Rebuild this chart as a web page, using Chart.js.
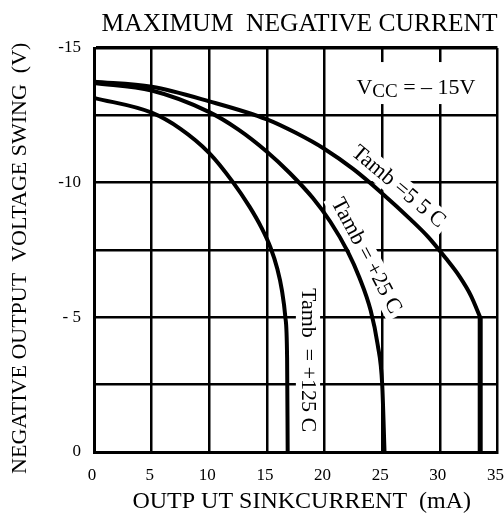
<!DOCTYPE html>
<html>
<head>
<meta charset="utf-8">
<script src="https://cdn.jsdelivr.net/npm/chart.js@4.4.0/dist/chart.umd.min.js"></script>
<style>
  html, body { margin: 0; padding: 0; background: #fff; }
</style>
</head>
<body>
<canvas id="chart" width="504" height="527"></canvas>
<script>
// Maximum negative current - output swing vs sink current
const SERIF = "'Liberation Serif', 'Times New Roman', serif";

const xTickValues = [0, 5, 10, 15, 20, 25, 30, 35];
const yTickValues = [-15, -10, -5, 0];
const yTickText = ["-15", "-10", "- 5", "0"];

// Tamb = -55 C
const coldCurrent = [0, 5, 10, 15, 17.5, 20, 22.5, 25, 27.5, 29, 30.5, 31.7, 32.7, 33.5];
const coldVoltage = [-13.75, -13.56, -13.02, -12.35, -11.85, -11.25, -10.5, -9.6, -8.62, -7.98, -7.2, -6.52, -5.8, -5.0];
const coldTailCurrent = [33.5, 33.5];
const coldTailVoltage = [-5.0, 0];

// Tamb = +25 C
const roomCurrent = [0, 5, 10, 12.5, 15, 17, 19, 20.5, 22, 23, 24, 24.6, 25.0, 25.2];
const roomVoltage = [-13.7, -13.42, -12.62, -11.98, -11.15, -10.35, -9.42, -8.55, -7.45, -6.5, -5.25, -4.0, -2.5, 0];

// Tamb = +125 C
const hotCurrent = [0, 5, 7.5, 10, 12, 13.5, 14.5, 15.3, 15.9, 16.3, 16.6, 16.75, 16.8];
const hotVoltage = [-13.15, -12.6, -12.0, -11.1, -10.05, -9.1, -8.35, -7.6, -6.8, -6.0, -5.0, -3.5, 0];

const curveNotes = [
  { text: "Tamb =5 5 C", x: 26.4, y: -9.84, angle: 40, size: 22 },
  { text: "Tamb = +25 C", x: 23.6, y: -7.28, angle: 62, size: 22 },
  { text: "Tamb  = +125 C", x: 18.56, y: -3.41, angle: 90, size: 22 }
];

function toPoints(xs, ys) {
  return xs.map((x, i) => ({ x: x, y: ys[i] }));
}

function curve(label, xs, ys, width) {
  return {
    label: label,
    data: toPoints(xs, ys),
    showLine: true,
    borderColor: "#000",
    borderWidth: width,
    pointRadius: 0,
    cubicInterpolationMode: "monotone",
    fill: false
  };
}

const notesPlugin = {
  id: "notes",
  beforeDatasetsDraw(chart) {
    const { ctx, scales: { x, y } } = chart;
    ctx.save();
    curveNotes.forEach(n => {
      ctx.save();
      ctx.translate(x.getPixelForValue(n.x), y.getPixelForValue(n.y));
      ctx.rotate(n.angle * Math.PI / 180);
      ctx.font = n.size + "px " + SERIF;
      const w = ctx.measureText(n.text).width;
      ctx.fillStyle = "#fff";
      ctx.fillRect(-w / 2 - 4, -n.size * 0.55, w + 8, n.size * 1.1);
      ctx.fillStyle = "#000";
      ctx.textAlign = "center";
      ctx.textBaseline = "middle";
      ctx.fillText(n.text, 0, 0);
      ctx.restore();
    });

    // supply voltage note, V with CC subscript
    const cx = x.getPixelForValue(27.93), cy = y.getPixelForValue(-13.55);
    const big = "22px " + SERIF, small = "19px " + SERIF;
    ctx.font = big;
    const wV = ctx.measureText("V").width;
    const wRest = ctx.measureText(" = \u2013 15V").width;
    ctx.font = small;
    const wCC = ctx.measureText("CC").width;
    const total = wV + wCC + wRest;
    let left = cx - total / 2;
    ctx.fillStyle = "#fff";
    ctx.fillRect(left - 8, cy - 25, total + 16, 42);
    ctx.fillStyle = "#000";
    ctx.textBaseline = "alphabetic";
    ctx.textAlign = "left";
    ctx.font = big;
    ctx.fillText("V", left, cy + 7);
    ctx.font = small;
    ctx.fillText("CC", left + wV, cy + 10);
    ctx.font = big;
    ctx.fillText(" = \u2013 15V", left + wV + wCC, cy + 7);
    ctx.restore();
  }
};

new Chart(document.getElementById("chart").getContext("2d"), {
  type: "scatter",
  data: {
    datasets: [
      curve("Tamb = -55 C", coldCurrent, coldVoltage, 4),
      curve("Tamb = -55 C tail", coldTailCurrent, coldTailVoltage, 5),
      curve("Tamb = +25 C", roomCurrent, roomVoltage, 4),
      curve("Tamb = +125 C", hotCurrent, hotVoltage, 4)
    ]
  },
  options: {
    responsive: false,
    animation: false,
    layout: { padding: { left: 0, right: 6.5, top: 0, bottom: 0 } },
    plugins: {
      legend: { display: false },
      tooltip: { enabled: false },
      title: {
        display: true,
        text: "MAXIMUM  NEGATIVE CURRENT",
        align: "end",
        color: "#000",
        font: { family: SERIF, size: 25.5, weight: "normal" },
        padding: { top: 9, bottom: 8.4 }
      }
    },
    scales: {
      x: {
        type: "linear",
        min: 0,
        max: 35,
        afterBuildTicks(scale) {
          scale.ticks = xTickValues.map(v => ({ value: v }));
        },
        afterFit(scale) {
          scale.height = 75;
          scale.paddingLeft = 0;
          scale.paddingRight = 0;
        },
        ticks: {
          color: "#000",
          padding: 13,
          labelOffset: -2,
          maxRotation: 0,
          font: { family: SERIF, size: 17 }
        },
        grid: { color: "#000", lineWidth: 2.5, drawTicks: false },
        border: { display: true, color: "#000", width: 3 },
        title: {
          display: true,
          text: "  OUTP UT SINKCURRENT  (mA)",
          color: "#000",
          font: { family: SERIF, size: 24, weight: "normal" },
          padding: { top: 0, bottom: 11 }
        }
      },
      y: {
        type: "linear",
        min: -15,
        max: 0,
        reverse: true,
        ticks: {
          stepSize: 2.5,
          color: "#000",
          padding: 13,
          font: { family: SERIF, size: 17 },
          callback(value) {
            const i = yTickValues.findIndex(v => Math.abs(v - value) < 1e-6);
            return i >= 0 ? yTickText[i] : "";
          }
        },
        afterFit(scale) {
          scale.width = 94;
          scale.paddingTop = 0;
          scale.paddingBottom = 0;
        },
        grid: {
          color: "#000",
          drawTicks: false,
          lineWidth: ctx => (ctx.tick && ctx.tick.value === -15 ? 3.5 : 2.5)
        },
        border: { display: true, color: "#000", width: 3 },
        title: {
          display: true,
          text: "NEGATIVE OUTPUT  VOLTAGE SWING  (V)   ",
          color: "#000",
          font: { family: SERIF, size: 22, weight: "normal" },
          padding: { top: 7, bottom: 0 }
        }
      }
    }
  },
  plugins: [notesPlugin]
});
</script>
</body>
</html>
